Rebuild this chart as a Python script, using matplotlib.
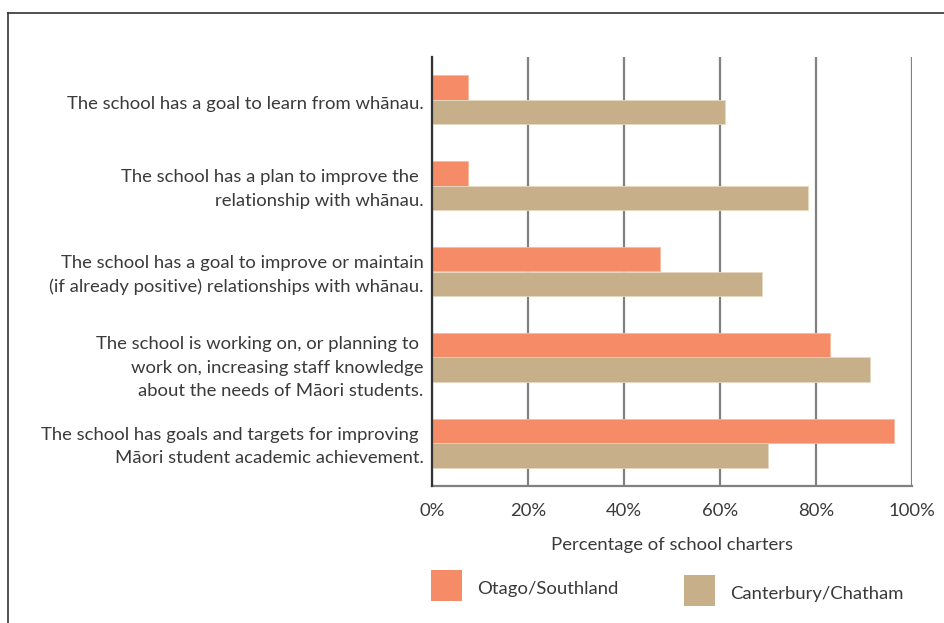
import matplotlib
matplotlib.use("Agg")
import matplotlib.pyplot as plt
import matplotlib.transforms as mtransforms
from matplotlib.patches import Rectangle
import numpy as np

plt.rcParams['font.family'] = ['Lato', 'DejaVu Sans']

statements = [
    "The school has a goal to learn from wh\u0101nau.",
    "The school has a plan to improve the \nrelationship with wh\u0101nau.",
    "The school has a goal to improve or maintain\n(if already positive) relationships with wh\u0101nau.",
    "The school is working on, or planning to \nwork on, increasing staff knowledge\nabout the needs of M\u0101ori students.",
    "The school has goals and targets for improving \nM\u0101ori student academic achievement.",
]
series_names = ["Otago/Southland", "Canterbury/Chatham"]
otago = [7.5, 7.5, 47.5, 83.0, 96.3]
canterbury = [61.0, 78.3, 68.7, 91.2, 70.1]
ticks = [0, 20, 40, 60, 80, 100]
tick_labels = ["0%", "20%", "40%", "60%", "80%", "100%"]

c_otago = "#F58B67"
c_cant = "#C7AF8A"
txt = "#3a3a3a"
fs = 13.3

fig = plt.figure(figsize=(9.45, 6.23), dpi=100)
W, H = 945, 623
ax = fig.add_axes([432 / W, 1 - 486 / H, 480 / W, (486 - 57) / H])

y = np.arange(len(statements))
h = 0.286
ax.barh(y - h / 2, otago, height=h, color=c_otago, edgecolor="#f9b9a2", linewidth=0.6, zorder=3)
ax.barh(y + h / 2, canterbury, height=h, color=c_cant, edgecolor="#e6d8c2", linewidth=0.6, zorder=3)

ax.set_xlim(0, 100)
ax.set_ylim(len(statements) - 0.5, -0.5)
ax.set_xticks(ticks)
ax.set_xticklabels(tick_labels, fontsize=fs, color=txt)
ax.set_yticks(y)
ax.set_yticklabels(statements, fontsize=fs, color=txt, linespacing=1.58)
ax.tick_params(axis="both", length=0)
ax.tick_params(axis="y", pad=6)
ax.tick_params(axis="x", pad=12)

# nudge the category labels a little (offsets in pixels, + is down)
nudges = [3, -2, -2, 5, -2]
for lab, dy in zip(ax.get_yticklabels(), nudges):
    off = mtransforms.ScaledTranslation(0, -dy / 100, fig.dpi_scale_trans)
    lab.set_transform(lab.get_transform() + off)

ax.grid(axis="x", color="#808080", linewidth=1.6, zorder=1)
for s in ["top", "right"]:
    ax.spines[s].set_visible(False)
ax.spines["left"].set_color("#333333")
ax.spines["left"].set_linewidth(1.6)
ax.spines["left"].set_zorder(4)
ax.spines["bottom"].set_color("#808080")
ax.spines["bottom"].set_linewidth(1.6)
ax.set_xlabel("Percentage of school charters", fontsize=fs, color=txt, labelpad=13)

# legend drawn as swatches + text in pixel coordinates
def px(x, yy):
    return x / W, 1 - yy / H

for name, col, (x0, y0) in zip(series_names, [c_otago, c_cant], [(431, 570), (684, 575)]):
    fx, fy = px(x0, y0 + 31)
    fig.patches.append(Rectangle((fx, fy), 31 / W, 31 / H, transform=fig.transFigure,
                                 facecolor=col, edgecolor="none"))
    tx, ty = px(x0 + 46, y0 + 19)
    fig.text(tx, ty, name, fontsize=fs, color=txt, va="center", ha="left")

# outer frame (cut off at right and bottom)
fig.add_artist(plt.Line2D([8 / W, 8 / W], [0, 1 - 13 / H], transform=fig.transFigure,
                          color="#333333", linewidth=1.2))
fig.add_artist(plt.Line2D([8 / W, 1], [1 - 13 / H, 1 - 13 / H], transform=fig.transFigure,
                          color="#333333", linewidth=1.2))

fig.savefig("out.png", dpi=100)
